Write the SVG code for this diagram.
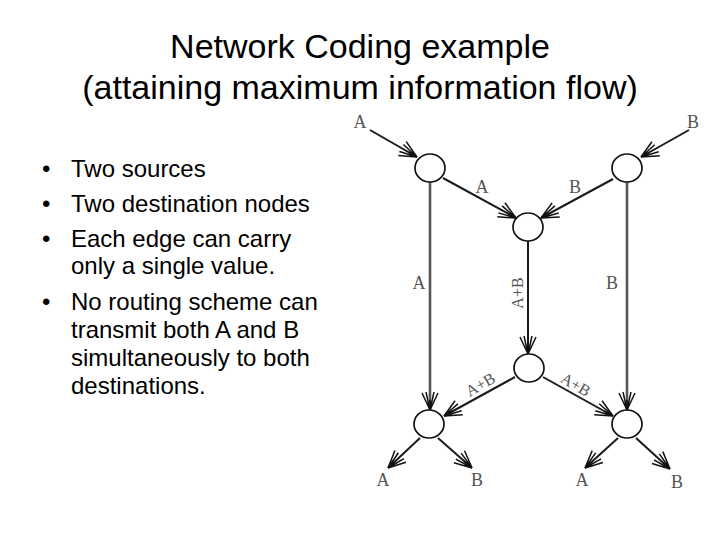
<svg xmlns="http://www.w3.org/2000/svg" width="720" height="540" viewBox="0 0 720 540">
<style>
.title{font-family:"Liberation Sans",Arial,sans-serif;font-size:34px;fill:#000;text-anchor:middle}
.bul{font-family:"Liberation Sans",Arial,sans-serif;font-size:24px;fill:#000}
.lbl{font-family:"Liberation Serif","Times New Roman",serif;font-size:18px;fill:#555;text-anchor:middle}
.lbs{font-family:"Liberation Serif","Times New Roman",serif;font-size:16px;fill:#555;text-anchor:middle}
.node{fill:#fff;stroke:#111;stroke-width:1.7}
.e{stroke:#1a1a1a;stroke-width:2;fill:none;marker-end:url(#arr)}
.v{stroke:#555;stroke-width:2.6;fill:none;marker-end:url(#arr)}
</style>
<defs>
<marker id="arr" markerUnits="userSpaceOnUse" markerWidth="24" markerHeight="24" viewBox="-20 -12 22 24" refX="0" refY="0" orient="auto" overflow="visible">
<path d="M0,0 L-17,-8 M0,0 L-17,8 M0,0 L-18,-4 M0,0 L-18,4 M0,0 L-10,0" fill="none" stroke="#111" stroke-width="1.5"/>
</marker>
</defs>
<rect width="720" height="540" fill="#fff"/>
<g id="title">
<text class="title" x="360" y="58">Network Coding example</text>
<text class="title" x="360" y="99">(attaining maximum information flow)</text>
</g>
<g id="bullets">
<text class="bul" x="42" y="177">•</text>
<text class="bul" x="71" y="177">Two sources</text>
<text class="bul" x="42" y="212">•</text>
<text class="bul" x="71" y="212">Two destination nodes</text>
<text class="bul" x="42" y="247">•</text>
<text class="bul" x="71" y="247">Each edge can carry</text>
<text class="bul" x="71" y="274">only a single value.</text>
<text class="bul" x="42" y="310">•</text>
<text class="bul" x="71" y="310">No routing scheme can</text>
<text class="bul" x="71" y="338">transmit both A and B</text>
<text class="bul" x="71" y="366">simultaneously to both</text>
<text class="bul" x="71" y="394">destinations.</text>
</g>
<g id="connectors">
<line class="e" x1="370" y1="130" x2="417" y2="157"/>
<line class="e" x1="689" y1="130" x2="641" y2="157"/>
<line class="e" x1="443" y1="178" x2="516" y2="218"/>
<line class="e" x1="613" y1="179" x2="541" y2="218"/>
<line class="v" x1="430" y1="182" x2="430" y2="410"/>
<line class="v" x1="627" y1="182" x2="627" y2="410"/>
<line class="e" x1="528" y1="241" x2="528" y2="354"/>
<line class="e" x1="515" y1="377" x2="444" y2="416"/>
<line class="e" x1="543" y1="377" x2="613" y2="416"/>
<line class="e" x1="420" y1="438" x2="388" y2="468"/>
<line class="e" x1="438" y1="438" x2="472" y2="468"/>
<line class="e" x1="618" y1="438" x2="585" y2="468"/>
<line class="e" x1="636" y1="438" x2="670" y2="469"/>
</g>
<g id="labels">
<text class="lbl" x="360" y="128">A</text>
<text class="lbl" x="693" y="128">B</text>
<text class="lbl" x="482" y="193">A</text>
<text class="lbl" x="575" y="193">B</text>
<text class="lbl" x="419" y="289">A</text>
<text class="lbl" x="612" y="289">B</text>
<text class="lbs" transform="translate(517,293) rotate(-90)" x="0" y="6">A+B</text>
<text class="lbs" transform="translate(480,384) rotate(-30)" x="0" y="6">A+B</text>
<text class="lbs" transform="translate(576,384) rotate(30)" x="0" y="6">A+B</text>
<text class="lbl" x="383" y="486">A</text>
<text class="lbl" x="477" y="486">B</text>
<text class="lbl" x="582" y="486">A</text>
<text class="lbl" x="677" y="488">B</text>
</g>
<g id="n-src-a"><ellipse class="node" cx="430" cy="168" rx="15" ry="14"/></g>
<g id="n-src-b"><ellipse class="node" cx="627" cy="168" rx="15" ry="14"/></g>
<g id="n-mid-top"><ellipse class="node" cx="528" cy="227" rx="15" ry="14"/></g>
<g id="n-mid-bot"><ellipse class="node" cx="529" cy="368" rx="15" ry="14"/></g>
<g id="n-dst-1"><ellipse class="node" cx="429" cy="424" rx="15" ry="14"/></g>
<g id="n-dst-2"><ellipse class="node" cx="627" cy="424" rx="15" ry="14"/></g>
</svg>
